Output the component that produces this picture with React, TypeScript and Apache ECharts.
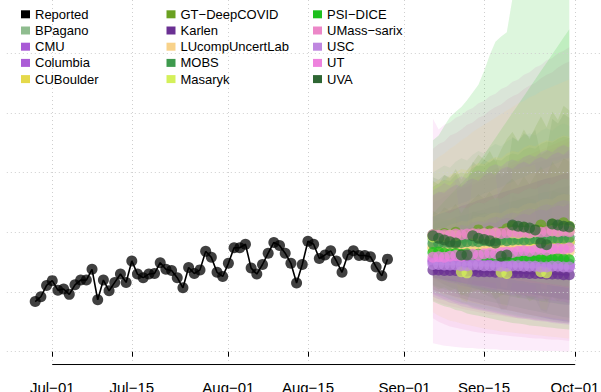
import React, { useEffect, useRef } from "react";
import * as echarts from "echarts";

// ---------- axis / tick data ----------
const AXIS_START = "2020-06-23";
const AXIS_DAYS = 106; // Jun 23 .. Oct 06
const MONTHS = ["Jan", "Feb", "Mar", "Apr", "May", "Jun", "Jul", "Aug", "Sep", "Oct", "Nov", "Dec"];
const TICK_DAYS = ["01", "15"];
const AXIS_LINE_FROM = "2020-07-01";
const AXIS_LINE_TO = "2020-10-01";
const GRID_Y = [0, 100, 200, 300, 400, 500];
const Y_MIN = -22.3;
const Y_MAX = 589;
const AXIS_LINE_Y = -21.5;

// ---------- reported ----------
const REPORTED_START = "2020-06-28";
const reported = [
  84, 92, 111, 119, 103, 105, 96, 112, 120, 120, 138, 87, 120, 102, 116, 130, 116, 152, 130, 124,
  130, 131, 149, 138, 136, 124, 107, 141, 131, 137, 168, 158, 133, 126, 148, 174, 174, 180, 140,
  130, 146, 165, 183, 178, 165, 148, 115, 146, 185, 180, 156, 162, 169, 152, 133, 162, 169, 161,
  161, 159, 142, 127, 155,
];

// ---------- forecasts (Sep 06 .. Sep 30) ----------
const FORECAST_START = "2020-09-06";
const models = ["BPagano", "CMU", "Columbia", "CUBoulder", "GT\u2212DeepCOVID", "Karlen", "LUcompUncertLab", "MOBS", "Masaryk", "PSI\u2212DICE", "UMass\u2212sarix", "USC", "UT", "UVA"];
const modelColors = ["#8FBC8F", "#A95AD6", "#AB5CD6", "#E5D94A", "#6AA121", "#6A3093", "#F8D28A", "#3E9A4E", "#D4F05A", "#1DC01D", "#EC87C8", "#BF87E0", "#EE82DD", "#2E6633"];

// medians, 50% bands (lo50/hi50) and 95% bands (lo/hi)
const bpaganoMed = [188, 187, 186, 186, 185, 185, 184, 187, 186, 186, 185, 184, 184, 183, 186, 185, 185, 184, 183, 183, 182, 185, 184, 184, 183];
const bpaganoLo50 = [156, 152, 150, 147, 145, 142, 140, 138, 136, 134, 132, 130, 128, 126, 125, 123, 121, 120, 118, 116, 115, 113, 112, 110, 109];
const bpaganoHi50 = [226, 230, 234, 232, 238, 242, 240, 246, 250, 248, 254, 258, 256, 262, 266, 264, 270, 274, 272, 278, 282, 280, 286, 290, 288];
const bpaganoLo = [100, 96, 92, 88, 86, 82, 80, 76, 74, 72, 70, 68, 66, 64, 62, 60, 58, 57, 56, 54, 53, 52, 50, 49, 48];
const bpaganoHi = [300, 306, 312, 308, 318, 324, 320, 330, 336, 332, 342, 348, 344, 352, 358, 354, 362, 366, 362, 370, 374, 370, 378, 382, 378];

const cmuMed = [150, 149, 149, 148, 148, 147, 147, 148, 147, 147, 146, 146, 145, 145, 146, 146, 145, 145, 144, 144, 143, 144, 143, 143, 142];
const cmuLo50 = [124, 121, 119, 116, 114, 111, 109, 107, 105, 103, 101, 99, 97, 95, 94, 92, 90, 89, 87, 85, 84, 82, 81, 79, 78];
const cmuHi50 = [190, 194, 193, 198, 202, 200, 206, 209, 207, 214, 217, 215, 221, 224, 222, 228, 231, 229, 235, 238, 236, 242, 245, 243, 248];
const cmuLo = [92, 88, 86, 82, 80, 76, 74, 72, 70, 68, 66, 64, 62, 60, 58, 56, 55, 54, 52, 51, 50, 48, 47, 46, 45];
const cmuHi = [262, 268, 266, 274, 280, 276, 286, 290, 286, 296, 300, 296, 306, 310, 306, 314, 318, 314, 322, 326, 322, 330, 334, 330, 338];

const columbiaMed = [153, 153, 152, 152, 151, 150, 150, 152, 151, 151, 150, 150, 149, 148, 150, 150, 149, 149, 148, 147, 147, 149, 148, 148, 147];
const columbiaLo50 = [128, 125, 122, 120, 117, 115, 113, 111, 109, 107, 105, 103, 101, 99, 98, 96, 94, 93, 91, 89, 88, 86, 85, 84, 82];
const columbiaHi50 = [196, 200, 204, 202, 208, 212, 210, 216, 219, 217, 223, 226, 224, 230, 233, 231, 237, 240, 238, 244, 247, 245, 251, 254, 252];
const columbiaLo = [96, 92, 88, 86, 82, 80, 78, 74, 72, 70, 68, 66, 64, 62, 60, 58, 57, 56, 54, 53, 52, 50, 49, 48, 47];
const columbiaHi = [270, 276, 282, 278, 288, 294, 290, 300, 304, 300, 310, 314, 310, 318, 322, 318, 326, 330, 326, 334, 338, 334, 342, 346, 342];

const cuboulderMed = [173, 174, 173, 175, 174, 176, 175, 176, 177, 176, 178, 177, 179, 178, 179, 180, 179, 181, 180, 182, 181, 182, 183, 182, 184];
const cuboulderLo50 = [146, 144, 141, 140, 137, 136, 133, 132, 130, 128, 127, 125, 124, 122, 121, 119, 118, 116, 115, 114, 112, 111, 110, 108, 107];
const cuboulderHi50 = [204, 208, 207, 213, 215, 219, 218, 223, 226, 225, 231, 233, 232, 238, 241, 240, 246, 249, 248, 254, 256, 255, 261, 264, 263];
const cuboulderLo = [104, 100, 96, 94, 90, 88, 84, 82, 80, 78, 76, 74, 72, 70, 68, 66, 64, 62, 60, 59, 58, 56, 55, 54, 52];
const cuboulderHi = [282, 288, 286, 296, 300, 306, 304, 312, 316, 314, 322, 326, 324, 332, 336, 334, 342, 346, 344, 350, 354, 352, 358, 362, 360];

const gtMed = [196, 190, 198, 192, 200, 186, 194, 198, 204, 196, 202, 190, 200, 206, 210, 200, 208, 196, 204, 212, 202, 214, 206, 216, 210];
const gtLo50 = [160, 153, 160, 153, 160, 144, 152, 155, 160, 150, 156, 142, 152, 156, 158, 146, 154, 140, 148, 154, 142, 154, 144, 154, 148];
const gtHi50 = [236, 230, 242, 236, 248, 232, 246, 254, 264, 256, 268, 254, 270, 282, 290, 278, 294, 280, 296, 310, 296, 318, 306, 324, 318];
const gtLo = [110, 104, 108, 102, 106, 94, 98, 100, 104, 96, 100, 88, 94, 98, 100, 90, 96, 84, 90, 94, 84, 92, 84, 90, 86];
const gtHi = [286, 280, 296, 290, 306, 288, 304, 316, 330, 322, 336, 318, 338, 356, 368, 352, 372, 356, 376, 394, 376, 402, 388, 412, 404];

const karlenMed = [137, 137, 136, 136, 136, 135, 135, 135, 134, 134, 134, 133, 133, 133, 132, 132, 132, 131, 131, 131, 130, 130, 130, 129, 129];
const karlenLo50 = [124, 123, 121, 119, 118, 116, 114, 113, 111, 110, 108, 106, 105, 103, 102, 100, 99, 97, 95, 94, 92, 91, 89, 88, 86];
const karlenHi50 = [152, 153, 154, 155, 157, 158, 159, 160, 162, 163, 164, 165, 166, 168, 169, 170, 171, 172, 173, 175, 176, 177, 178, 179, 181];
const karlenLo = [104, 101, 98, 95, 92, 90, 87, 84, 82, 79, 77, 75, 72, 70, 68, 66, 64, 62, 60, 58, 56, 54, 53, 51, 50];
const karlenHi = [226, 230, 233, 237, 240, 244, 247, 250, 254, 257, 260, 263, 266, 269, 272, 275, 278, 281, 284, 287, 290, 292, 295, 298, 300];

const lucompMed = [176, 175, 176, 174, 175, 173, 174, 175, 173, 174, 172, 173, 171, 172, 173, 171, 172, 170, 171, 169, 170, 171, 169, 170, 168];
const lucompLo50 = [132, 128, 126, 122, 120, 117, 115, 113, 110, 108, 106, 104, 102, 100, 99, 97, 95, 93, 92, 90, 89, 87, 86, 84, 83];
const lucompHi50 = [228, 233, 236, 241, 244, 249, 252, 257, 260, 265, 268, 273, 276, 281, 284, 289, 292, 297, 300, 305, 308, 313, 316, 321, 324];
const lucompLo = [66, 60, 56, 52, 50, 47, 45, 43, 41, 39, 37, 36, 34, 33, 32, 31, 30, 29, 28, 27, 26, 25, 24, 23, 22];
const lucompHi = [318, 326, 332, 340, 346, 354, 360, 368, 374, 380, 386, 392, 398, 404, 410, 416, 420, 426, 430, 436, 440, 444, 448, 452, 456];

const mobsMed = [181, 182, 183, 182, 184, 183, 184, 185, 184, 186, 185, 186, 187, 186, 187, 188, 187, 188, 189, 188, 189, 190, 189, 190, 191];
const mobsLo50 = [154, 152, 151, 148, 148, 145, 144, 143, 140, 140, 137, 136, 135, 132, 131, 130, 127, 126, 125, 122, 121, 120, 117, 116, 115];
const mobsHi50 = [212, 216, 219, 220, 226, 228, 230, 234, 236, 238, 242, 244, 246, 250, 252, 254, 258, 260, 262, 266, 268, 270, 274, 276, 278];
const mobsLo = [112, 108, 104, 102, 98, 96, 92, 90, 88, 86, 84, 82, 80, 78, 76, 74, 72, 70, 68, 66, 64, 62, 60, 58, 57];
const mobsHi = [276, 282, 288, 286, 296, 300, 298, 308, 312, 310, 318, 322, 320, 328, 332, 330, 338, 342, 340, 348, 352, 350, 356, 360, 358];

const masarykMed = [192, 194, 193, 195, 194, 134, 132, 196, 195, 197, 196, 198, 133, 131, 199, 198, 200, 199, 201, 134, 132, 203, 202, 204, 203];
const masarykLo50 = [168, 169, 168, 169, 168, 112, 110, 168, 167, 168, 167, 168, 108, 106, 168, 167, 168, 167, 168, 106, 104, 168, 167, 168, 167];
const masarykHi50 = [218, 221, 221, 224, 224, 158, 156, 228, 228, 231, 231, 234, 162, 160, 236, 236, 239, 239, 242, 166, 164, 244, 244, 247, 247];
const masarykLo = [124, 124, 122, 122, 120, 84, 82, 120, 118, 118, 116, 116, 78, 76, 116, 114, 114, 112, 112, 72, 70, 110, 108, 108, 106];
const masarykHi = [276, 280, 280, 284, 284, 206, 204, 292, 292, 296, 296, 300, 212, 210, 306, 306, 310, 310, 314, 218, 216, 320, 320, 324, 324];

const psiMed = [166, 167, 165, 164, 165, 163, 164, 162, 163, 161, 162, 160, 161, 159, 160, 158, 159, 157, 158, 156, 157, 155, 156, 155, 154];
const psiLo50 = [126, 124, 120, 118, 115, 112, 109, 107, 104, 102, 100, 98, 96, 94, 92, 90, 89, 87, 86, 84, 83, 82, 80, 79, 78];
const psiHi50 = [232, 242, 252, 262, 272, 282, 292, 304, 316, 330, 344, 358, 372, 386, 400, 414, 428, 442, 456, 470, 484, 498, 512, 526, 540];
const psiLo = [84, 80, 76, 74, 70, 68, 64, 62, 60, 58, 56, 54, 52, 50, 48, 47, 46, 44, 43, 42, 41, 40, 39, 38, 37];
const psiHi = [354, 362, 378, 393, 402, 410, 421, 434, 447, 470, 497, 519, 528, 535, 592, 620, 650, 680, 700, 730, 760, 790, 820, 850, 880];

const umassMed = [196, 195, 196, 195, 197, 196, 197, 198, 197, 198, 197, 199, 198, 199, 200, 199, 200, 199, 201, 200, 201, 202, 201, 202, 201];
const umassLo50 = [120, 116, 113, 110, 108, 106, 104, 102, 100, 99, 97, 96, 95, 93, 92, 91, 90, 89, 88, 87, 86, 85, 84, 83, 82];
const umassHi50 = [262, 266, 270, 274, 278, 282, 286, 290, 294, 298, 302, 306, 310, 314, 318, 322, 326, 330, 334, 338, 342, 346, 350, 354, 358];
const umassLo = [56, 50, 46, 42, 40, 38, 36, 34, 32, 31, 30, 29, 28, 27, 26, 25, 24, 23, 22, 22, 21, 20, 20, 19, 18];
const umassHi = [340, 348, 352, 362, 366, 372, 380, 384, 392, 396, 404, 410, 414, 422, 428, 432, 440, 446, 450, 458, 464, 468, 476, 482, 486];

const uscMed = [146, 146, 145, 145, 145, 144, 144, 145, 145, 144, 144, 144, 143, 143, 144, 144, 143, 143, 143, 142, 142, 143, 143, 142, 142];
const uscLo50 = [124, 122, 120, 118, 117, 115, 113, 112, 110, 109, 107, 106, 104, 103, 102, 100, 99, 98, 96, 95, 94, 93, 91, 90, 89];
const uscHi50 = [174, 176, 178, 180, 182, 184, 186, 188, 190, 192, 194, 196, 198, 200, 202, 204, 206, 208, 210, 212, 214, 216, 218, 220, 222];
const uscLo = [98, 94, 92, 88, 86, 82, 80, 78, 76, 74, 72, 70, 68, 66, 64, 62, 60, 59, 58, 56, 55, 54, 52, 51, 50];
const uscHi = [250, 254, 260, 264, 268, 272, 276, 280, 284, 288, 291, 294, 298, 301, 304, 307, 310, 313, 316, 318, 321, 324, 326, 329, 332];

const utMed = [158, 159, 158, 160, 161, 160, 162, 163, 162, 164, 165, 164, 166, 167, 166, 168, 169, 168, 170, 171, 170, 172, 173, 172, 174];
const utLo50 = [86, 82, 79, 76, 74, 72, 70, 68, 66, 64, 62, 61, 60, 58, 57, 56, 55, 54, 53, 52, 51, 50, 49, 48, 47];
const utHi50 = [260, 262, 264, 268, 272, 276, 280, 284, 288, 292, 296, 300, 304, 308, 312, 316, 320, 324, 328, 332, 336, 340, 344, 348, 352];
const utLo = [14, 12, 10, 9, 8, 7, 6, 6, 5, 5, 4, 4, 3, 3, 3, 2, 2, 2, 2, 1, 1, 1, 1, 0, 0];
const utHi = [390, 372, 380, 384, 392, 396, 404, 408, 416, 420, 428, 432, 440, 444, 452, 456, 464, 468, 476, 480, 488, 492, 500, 504, 510];

const uvaMed = [194, 190, 187, 184, 182, 162, 162, 194, 190, 188, 186, 182, 160, 162, 212, 210, 209, 207, 204, 182, 179, 214, 212, 210, 209];
const uvaLo50 = [162, 158, 154, 150, 147, 128, 126, 156, 152, 148, 145, 141, 121, 122, 166, 162, 159, 155, 152, 130, 126, 164, 160, 157, 153];
const uvaHi50 = [228, 224, 222, 220, 220, 198, 200, 236, 232, 232, 230, 228, 206, 210, 262, 258, 258, 256, 254, 232, 230, 270, 266, 266, 262];
const uvaLo = [124, 118, 112, 108, 104, 88, 84, 106, 100, 96, 92, 88, 70, 72, 102, 98, 94, 90, 88, 70, 66, 92, 88, 84, 80];
const uvaHi = [292, 288, 296, 292, 300, 278, 282, 318, 310, 322, 316, 326, 292, 300, 360, 352, 366, 360, 372, 330, 336, 390, 382, 398, 392];

const medians = [bpaganoMed, cmuMed, columbiaMed, cuboulderMed, gtMed, karlenMed, lucompMed, mobsMed, masarykMed, psiMed, umassMed, uscMed, utMed, uvaMed];
const lows = [bpaganoLo, cmuLo, columbiaLo, cuboulderLo, gtLo, karlenLo, lucompLo, mobsLo, masarykLo, psiLo, umassLo, uscLo, utLo, uvaLo];
const highs = [bpaganoHi, cmuHi, columbiaHi, cuboulderHi, gtHi, karlenHi, lucompHi, mobsHi, masarykHi, psiHi, umassHi, uscHi, utHi, uvaHi];
const lows50 = [bpaganoLo50, cmuLo50, columbiaLo50, cuboulderLo50, gtLo50, karlenLo50, lucompLo50, mobsLo50, masarykLo50, psiLo50, umassLo50, uscLo50, utLo50, uvaLo50];
const highs50 = [bpaganoHi50, cmuHi50, columbiaHi50, cuboulderHi50, gtHi50, karlenHi50, lucompHi50, mobsHi50, masarykHi50, psiHi50, umassHi50, uscHi50, utHi50, uvaHi50];

// ---------- helpers ----------
function buildDates(start: string, n: number): string[] {
  const out: string[] = [];
  const t0 = Date.parse(start + "T00:00:00Z");
  for (let i = 0; i < n; i++) {
    out.push(new Date(t0 + i * 86400000).toISOString().slice(0, 10));
  }
  return out;
}
function rgba(hex: string, a: number) {
  const n = parseInt(hex.slice(1), 16);
  return `rgba(${(n >> 16) & 255},${(n >> 8) & 255},${n & 255},${a})`;
}
const isTick = (v: string) => TICK_DAYS.includes(v.slice(8, 10));
const fmt = (v: string) => MONTHS[+v.slice(5, 7) - 1] + "\u2212" + v.slice(8, 10);

export default function App() {
  const ref = useRef<HTMLDivElement>(null);
  useEffect(() => {
    if (!ref.current) return;
    const chart = echarts.init(ref.current, null, { renderer: "svg" });
    const dates = buildDates(AXIS_START, AXIS_DAYS);
    const repDates = buildDates(REPORTED_START, reported.length);
    const fcStart = dates.indexOf(FORECAST_START);
    const fcDates = buildDates(FORECAST_START, 25);
    const FONT = "'Liberation Sans', Arial, Helvetica, sans-serif";

    const series: any[] = [];
    series.push({
      type: "line",
      name: "_axis",
      data: [[AXIS_LINE_FROM, AXIS_LINE_Y], [AXIS_LINE_TO, AXIS_LINE_Y]],
      symbol: "none",
      clip: false,
      silent: true,
      lineStyle: { color: "#000", width: 1 },
      z: 1,
      markLine: {
        silent: true,
        symbol: ["none", "none"],
        label: { show: false },
        lineStyle: { color: "#cfcfcf", type: [1, 3], width: 1 },
        data: GRID_Y.map((v) => ({ yAxis: v })),
      },
    });
    const bandSeries = (key: string, i: number, lo: number[], hi: number[]) => ({
      type: "custom",
      name: key,
      silent: true,
      data: [[fcStart, lo[0]]],
      z: 2,
      renderItem: (_p: any, api: any) => {
        const pts: number[][] = [];
        for (let h = 0; h < hi.length; h++) pts.push(api.coord([fcStart + h, hi[h]]));
        for (let h = lo.length - 1; h >= 0; h--) pts.push(api.coord([fcStart + h, lo[h]]));
        return { type: "polygon", shape: { points: pts }, style: { fill: rgba(modelColors[i], 0.15) } };
      },
    });
    for (let i = models.length - 1; i >= 0; i--) {
      series.push(bandSeries("_band95_" + i, i, lows[i], highs[i]));
      series.push(bandSeries("_band50_" + i, i, lows50[i], highs50[i]));
    }
    series.push({
      type: "line",
      name: "Reported",
      data: repDates.map((d, k) => [d, reported[k]]),
      symbol: "circle",
      symbolSize: 11,
      showSymbol: true,
      showAllSymbol: true,
      itemStyle: { color: "#000", opacity: 0.75, borderWidth: 0 },
      lineStyle: { color: "#000", width: 1.6 },
      z: 5,
    });
    models.forEach((m, i) => {
      series.push({
        type: "line",
        name: m,
        data: fcDates.map((d, k) => [d, medians[i][k]]),
        symbol: "circle",
        symbolSize: 11,
        showSymbol: true,
        showAllSymbol: true,
        itemStyle: { color: modelColors[i], opacity: 0.75, borderWidth: 0 },
        lineStyle: { color: modelColors[i], width: 1.6 },
        z: 5,
      });
    });

    const allNames = ["Reported", ...models];
    const allColors = ["#000000", ...modelColors];
    const legendCol = (names: string[], left: number) => ({
      show: true,
      orient: "vertical",
      left,
      top: 6.3,
      padding: 0,
      itemGap: 0.2,
      itemWidth: 9,
      itemHeight: 8,
      itemTextGap: 11,
      icon: "rect",
      selectedMode: false,
      textStyle: { fontFamily: FONT, fontSize: 13, color: "#000", lineHeight: 16 },
      data: names.map((n) => ({ name: n, itemStyle: { color: allColors[allNames.indexOf(n)], opacity: 1 } })),
    });

    chart.setOption({
      animation: false,
      grid: { left: 6.8, right: -2.4, top: 0, bottom: 27, containLabel: false, outerBoundsMode: "none" },
      legend: [
        legendCol(allNames.slice(0, 5), 21),
        legendCol(allNames.slice(5, 10), 166.5),
        legendCol(allNames.slice(10, 15), 313),
      ],
      xAxis: {
        type: "category",
        data: dates,
        boundaryGap: false,
        axisLine: { show: false },
        axisTick: { show: true, interval: (_i: number, v: string) => isTick(v), length: 5, lineStyle: { color: "#000", width: 1 } },
        axisLabel: {
          show: true,
          interval: (_i: number, v: string) => isTick(v),
          formatter: (v: string) => fmt(v),
          fontFamily: FONT,
          fontSize: 15,
          color: "#000",
          margin: 15,
        },
        splitLine: { show: true, interval: (_i: number, v: string) => isTick(v), lineStyle: { color: "#cfcfcf", type: [1, 3], width: 1 } },
      },
      yAxis: {
        type: "value",
        min: Y_MIN,
        max: Y_MAX,
        axisLabel: { show: false },
        axisLine: { show: false },
        axisTick: { show: false },
        splitLine: { show: false },
      },
      series,
    });
    return () => chart.dispose();
  }, []);
  return <div ref={ref} style={{ width: 601, height: 392, position: "absolute", left: 0, top: 0 }} />;
}
